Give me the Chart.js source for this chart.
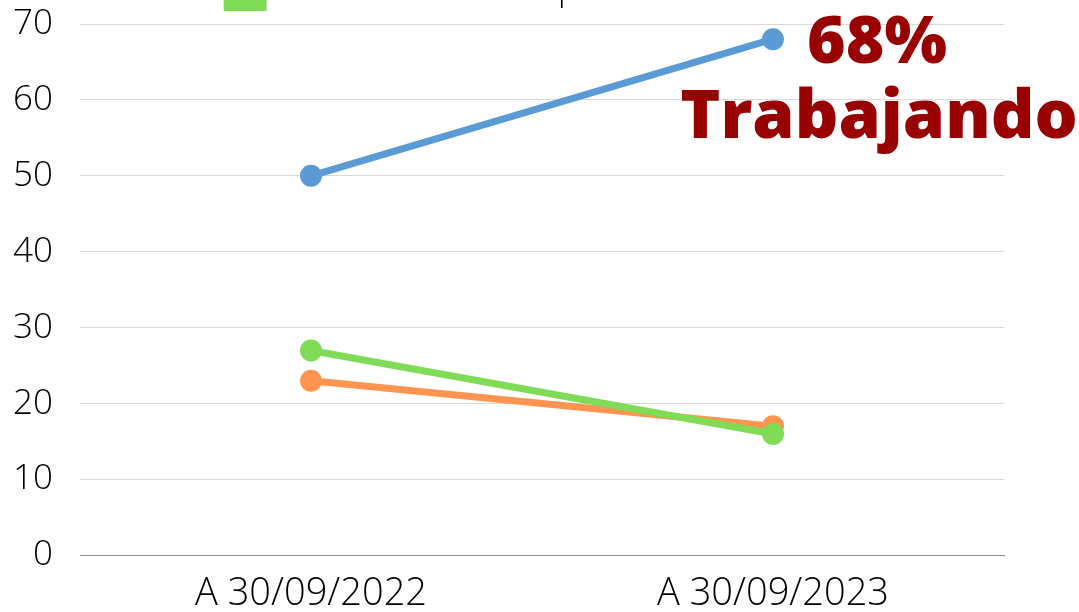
<!DOCTYPE html>
<html><head><meta charset="utf-8">
<script src="https://cdn.jsdelivr.net/npm/chart.js@4.4.0/dist/chart.umd.min.js"></script>
<style>
html,body{margin:0;padding:0;background:#fff;overflow:hidden;width:1079px;height:612px;}
#wrap{position:absolute;left:0;top:-83px;width:1079px;height:720px;}
</style></head>
<body><div id="wrap"><canvas id="c"></canvas></div>
<script>
const categories = ["A 30/09/2022", "A 30/09/2023"];
const trabajando = [50, 68];
const estudiando = [23, 17];
const otraSituacion = [27, 16];
const seriesNames = ["Trabajando", "Ampliando estudios", "Otra situación: en paro o inactivo"];
const yTicks = [0, 10, 20, 30, 40, 50, 60, 70];
const annotationLines = ["68%", "Trabajando"];

const annot = {
  id: 'annot',
  afterDraw(chart) {
    const ctx = chart.ctx, a = chart.chartArea;
    ctx.save();
    ctx.fillStyle = '#990000';
    ctx.textAlign = 'center';
    ctx.textBaseline = 'alphabetic';
    ctx.font = '800 66px "Open Sans"';
    ctx.fillText(annotationLines[0], a.right - 127, a.top + 39);
    ctx.font = '800 68px "Open Sans"';
    ctx.fillText(annotationLines[1], a.right - 125, a.top + 114);
    ctx.restore();
  }
};

const mk = (label, data, color, order) => ({
  label, data, borderColor: color, backgroundColor: color,
  borderWidth: 7, pointRadius: 11, pointHoverRadius: 11,
  pointBackgroundColor: color, pointBorderColor: color, pointBorderWidth: 0,
  tension: 0, order
});

new Chart(document.getElementById('c'), {
  type: 'line',
  data: {
    labels: categories,
    datasets: [
      mk(seriesNames[0], trabajando, '#5B9BD5', 2),
      mk(seriesNames[1], estudiando, '#FF9550', 1),
      mk(seriesNames[2], otraSituacion, '#80DB57', 0)
    ]
  },
  options: {
    responsive: true, maintainAspectRatio: false, animation: false,
    layout: { padding: { left: 0, right: 75, top: 0, bottom: 4 } },
    plugins: {
      legend: {
        display: true, position: 'top',
        labels: { boxWidth: 43, boxHeight: 41, padding: 6, color: '#000',
          sort: (a, b) => a.datasetIndex - b.datasetIndex,
          generateLabels: (chart) => Chart.defaults.plugins.legend.labels.generateLabels(chart)
            .map(l => Object.assign(l, { lineWidth: 0, strokeStyle: 'rgba(0,0,0,0)' })),
          font: { family: '"Open Sans"', size: 33.5, weight: 300 } }
      },
      subtitle: {
        display: true, text: ' ', position: 'top', weight: 500,
        padding: { top: 0, bottom: 0 },
        font: { size: 2.5, lineHeight: 1.2 }
      },
      tooltip: { enabled: false }
    },
    scales: {
      x: {
        offset: true,
        grid: { display: false, drawTicks: false },
        border: { display: true, color: '#888', width: 1 },
        ticks: { color: '#000', padding: 16, font: { family: '"Open Sans"', size: 38, weight: 300 } }
      },
      y: {
        min: 0, max: 70,
        afterBuildTicks: (s) => { s.ticks = yTicks.map(v => ({ value: v })); },
        afterFit: (s) => { s.width = 80; },
        grid: { color: '#d9d9d9', lineWidth: 1, drawTicks: false },
        border: { display: false },
        ticks: { color: '#000', padding: 27, font: { family: '"Open Sans"', size: 35, weight: 300 } }
      }
    }
  },
  plugins: [annot]
});
</script>
</body></html>
